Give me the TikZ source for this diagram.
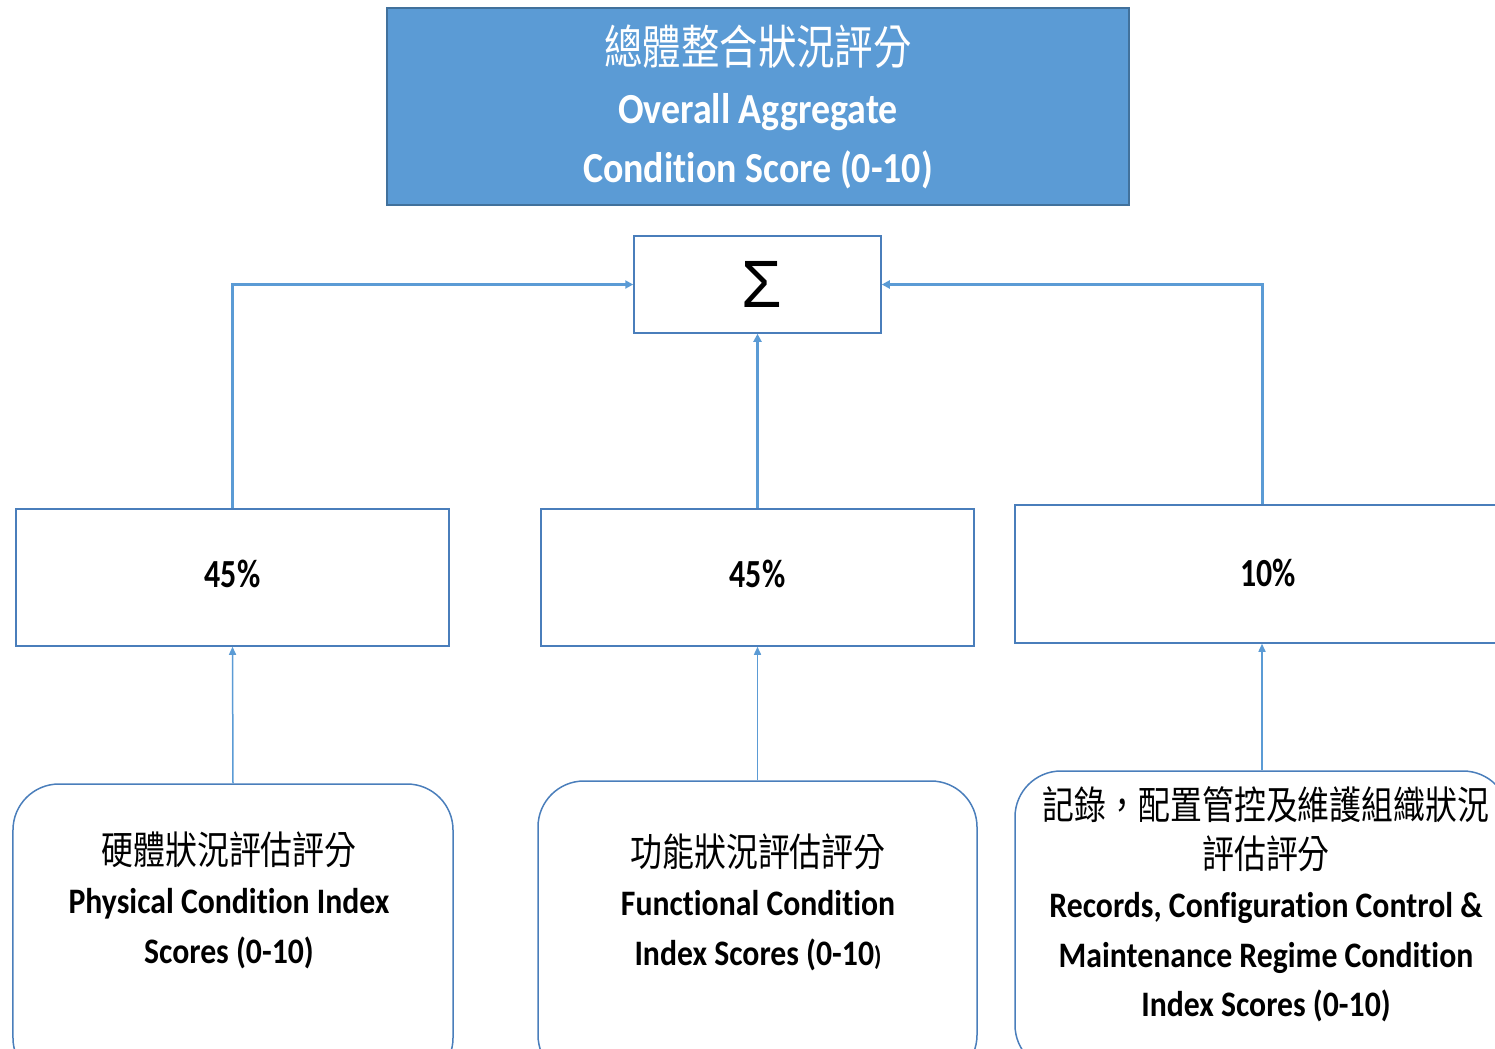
\documentclass[tikz,border=0pt]{standalone}
\usepackage{fontspec}
\usepackage{graphicx}
\usetikzlibrary{arrows.meta}
\setmainfont{Carlito}
\newfontfamily\cjk[FakeStretch=0.82]{Noto Sans CJK TC}
\newfontfamily\latn[FakeStretch=0.885,RawFeature={-liga}]{Carlito}
\newfontfamily\pctfont[FakeStretch=0.8]{Carlito}
\newfontfamily\sigfont[FakeStretch=0.88]{Liberation Sans}
\definecolor{fillblue}{HTML}{5B9BD5}
\definecolor{edgeblue}{HTML}{41719C}
\definecolor{boxedge}{HTML}{4A7EBB}
\tikzset{
  px/.style={x=1bp,y=-1bp},
  topbox/.style={draw=edgeblue,fill=fillblue,line width=1.5bp,minimum width=742bp,minimum height=197bp,inner sep=0pt},
  sigbox/.style={draw=boxedge,fill=white,line width=1.5bp,minimum width=247bp,minimum height=97bp,inner sep=0pt},
  pctbox/.style={draw=boxedge,fill=white,line width=1.5bp,minimum height=137bp,inner sep=0pt,
    font=\pctfont\bfseries\fontsize{40}{40}\selectfont},
  srcbox/.style={draw=boxedge,fill=white,line width=1.5bp,rounded corners=46bp,inner sep=0pt},
  srctext/.style={align=center,inner sep=0pt,font=\latn\bfseries\fontsize{36}{49.5}\selectfont},
  toptext/.style={align=center,inner sep=0pt,text=white,font=\latn\bfseries\fontsize{43}{59}\selectfont},
  sum/.style={-{Triangle[length=8bp,width=8bp]},draw=fillblue,line width=3bp},
  feed/.style={-{Triangle[length=8bp,width=7bp]},draw=fillblue,line width=1.5bp},
}
\begin{document}
\begin{tikzpicture}[px]
\useasboundingbox (0,0) rectangle (1495,1048);
\clip (0,0) rectangle (1495,1048);

% aggregate result
\node[topbox] (total) at (758,106.5) {};
\node[toptext] (totaltxt) at (758,107) {{\cjk\mdseries\fontsize{47}{59}\selectfont 總體整合狀況評分}\\Overall Aggregate\\Condition Score (0-10)};

% summation
\node[sigbox,font=\sigfont\fontsize{60}{60}\selectfont] (sig) at (757.5,284.5) {\hspace{9bp}\raisebox{1bp}{\scalebox{1.25}[1.12]{\char"03A3}}};

% weightings
\node[pctbox,minimum width=433bp] (p1) at (232.5,577.5) {\raisebox{7bp}{45\%}};
\node[pctbox,minimum width=433bp] (p2) at (757.5,577.5) {\raisebox{7bp}{45\%}};
\node[pctbox,minimum width=494bp,minimum height=138bp] (p3) at (1262,574) {\hspace{12bp}\raisebox{3bp}{10\%}};

% index scores
\node[srcbox,minimum width=440bp,minimum height=300bp] (b1) at (233,934) {};
\node[srcbox,minimum width=439bp,minimum height=300bp] (b2) at (757.5,931) {};
\node[srcbox,minimum width=494bp,minimum height=300bp] (b3) at (1262,921) {};

\node[srctext] (t1) at (229,900) {{\cjk\mdseries\fontsize{39}{49.5}\selectfont 硬體狀況評估評分}\\Physical Condition Index\\Scores (0-10)};
\node[srctext] (t2) at (758,902) {{\cjk\mdseries\fontsize{39}{49.5}\selectfont 功能狀況評估評分}\\Functional Condition\\Index Scores (0-10{\fontsize{27}{27}\selectfont)}};
\node[srctext] (t3) at (1266,904) {{\cjk\mdseries\fontsize{39}{49.5}\selectfont 記錄，配置管控及維護組織狀況}\\{\cjk\mdseries\fontsize{39}{49.5}\selectfont 評估評分}\\Records, Configuration Control \&\\Maintenance Regime Condition\\Index Scores (0-10)};

% weighted sum
\draw[sum] (p1.north) |- (sig.west);
\draw[sum] (p2.north) -- (sig.south);
\draw[sum] (p3.north) |- (sig.east);

% feeds into weightings
\draw[feed] (b1.north) -- (p1.south);
\draw[feed] (b2.north) -- (p2.south);
\draw[feed] (b3.north) -- (p3.south);
\end{tikzpicture}
\end{document}
